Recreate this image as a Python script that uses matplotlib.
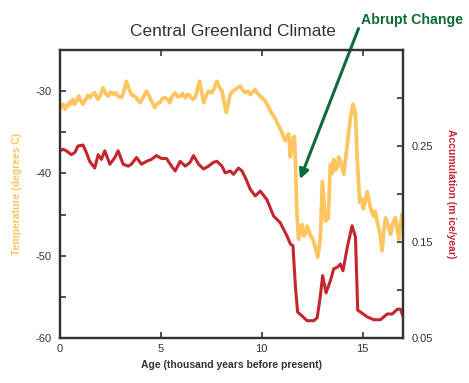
import matplotlib.pyplot as plt

plt.rcParams['font.family'] = ['Liberation Sans', 'DejaVu Sans']
plt.rcParams['axes.unicode_minus'] = False

# temperature record (thousand years BP, degrees C)
temp_age = [0.00, 0.06, 0.15, 0.25, 0.33, 0.40, 0.48, 0.55, 0.64, 0.73,
            0.83, 0.93, 1.03, 1.14, 1.22, 1.29, 1.38, 1.47, 1.60, 1.72,
            1.80, 1.89, 2.01, 2.14, 2.26, 2.38, 2.51, 2.63, 2.75, 2.88,
            3.04, 3.16, 3.29, 3.46, 3.57, 3.71, 3.83, 3.96, 4.12, 4.28,
            4.42, 4.53, 4.70, 4.82, 4.95, 5.08, 5.20, 5.33, 5.45, 5.56,
            5.71, 5.83, 5.96, 6.08, 6.21, 6.33, 6.45, 6.58, 6.70, 6.92,
            7.12, 7.24, 7.36, 7.53, 7.65, 7.78, 7.90, 8.03, 8.24, 8.44,
            8.56, 8.69, 8.82, 8.94, 9.07, 9.19, 9.31, 9.43, 9.56, 9.68,
            9.80, 9.93, 10.18, 10.43, 10.68, 10.92, 11.17, 11.34, 11.42,
            11.51, 11.62, 11.68, 11.74, 11.83, 11.92, 12.00, 12.08, 12.16, 12.25,
            12.33, 12.42, 12.50, 12.66, 12.78, 12.91, 13.01, 13.16, 13.29, 13.41,
            13.49, 13.57, 13.66, 13.74, 13.82, 13.90, 14.07, 14.24, 14.40, 14.53,
            14.65, 14.73, 14.86, 14.95, 15.04, 15.14, 15.23, 15.39, 15.54, 15.63,
            15.72, 15.89, 15.97, 16.05, 16.14, 16.26, 16.39, 16.51, 16.63, 16.72,
            16.80, 16.88, 16.97, 17.00]
temp = [-32.0, -31.9, -31.6, -32.2, -31.7, -31.8, -31.3, -31.5, -31.0, -31.6,
        -31.1, -30.6, -31.2, -31.6, -31.2, -31.0, -30.5, -30.8, -30.4, -30.2,
        -30.7, -31.0, -30.4, -29.6, -30.3, -30.6, -30.1, -30.4, -30.2, -30.6,
        -30.8, -30.1, -28.8, -30.0, -30.5, -30.6, -31.0, -31.4, -30.8, -30.0,
        -30.6, -31.2, -32.0, -31.5, -31.4, -30.9, -30.8, -31.0, -31.4, -30.6,
        -30.2, -30.7, -30.6, -30.3, -30.8, -30.4, -30.6, -31.0, -30.8, -28.8,
        -31.4, -30.6, -30.0, -30.2, -29.6, -28.8, -29.5, -30.0, -32.6, -30.4,
        -30.0, -29.8, -29.6, -29.4, -29.9, -30.2, -30.0, -30.4, -30.1, -29.8,
        -30.3, -30.6, -31.2, -32.4, -33.4, -34.6, -36.0, -35.2, -38.0,
        -36.1, -35.5, -38.9, -44.5, -48.0, -46.6, -46.2, -47.6, -47.4, -46.4,
        -46.8, -47.6, -47.8, -49.0, -50.2, -47.8, -41.0, -45.8, -45.5, -38.9,
        -40.0, -38.3, -39.6, -39.3, -38.0, -38.5, -40.1, -36.5, -33.2, -31.6,
        -32.8, -38.0, -43.5, -43.0, -44.3, -43.4, -42.2, -44.1, -45.2, -44.6,
        -45.8, -47.6, -49.4, -47.0, -45.4, -46.2, -47.4, -46.0, -45.4, -46.8,
        -48.0, -46.2, -44.9, -46.5]

# snow accumulation record (m ice / year)
acc_age = [0.00, 0.15, 0.31, 0.56, 0.73, 0.89, 1.14, 1.31, 1.47, 1.72,
           1.89, 2.05, 2.22, 2.47, 2.72, 2.88, 3.13, 3.38, 3.54, 3.79,
           4.04, 4.28, 4.53, 4.78, 5.03, 5.28, 5.53, 5.71, 5.96, 6.21,
           6.45, 6.62, 6.87, 7.12, 7.36, 7.61, 7.78, 8.03, 8.19, 8.44,
           8.60, 8.85, 9.02, 9.19, 9.43, 9.68, 9.93, 10.26, 10.59, 10.92,
           11.26, 11.42, 11.55, 11.67, 11.78, 12.00, 12.25, 12.58, 12.75, 12.91,
           13.02, 13.19, 13.41, 13.57, 13.77, 13.90, 14.03, 14.24, 14.48, 14.65,
           14.76, 14.90, 15.23, 15.56, 15.89, 16.22, 16.47, 16.73, 16.88, 17.00]
acc = [0.245, 0.2466, 0.245, 0.241, 0.243, 0.250, 0.251, 0.243, 0.234, 0.227,
       0.241, 0.236, 0.245, 0.231, 0.238, 0.245, 0.231, 0.229, 0.231, 0.238,
       0.231, 0.234, 0.236, 0.240, 0.237, 0.237, 0.229, 0.224, 0.234, 0.229,
       0.233, 0.240, 0.231, 0.226, 0.229, 0.233, 0.234, 0.229, 0.222, 0.224,
       0.2205, 0.227, 0.224, 0.217, 0.205, 0.198, 0.203, 0.194, 0.177, 0.170,
       0.156, 0.148, 0.146, 0.104, 0.077, 0.073, 0.068, 0.068, 0.071, 0.094,
       0.115, 0.097, 0.110, 0.122, 0.124, 0.127, 0.120, 0.144, 0.167, 0.155,
       0.079, 0.077, 0.072, 0.069, 0.069, 0.075, 0.075, 0.080, 0.080, 0.073]

orange = '#FDC560'
red = '#C4262E'
green = '#0E6B3C'
dark = '#333333'

fig = plt.figure(figsize=(4.69, 3.83), dpi=100)
ax = fig.add_axes([0.128, 0.1175, 0.731, 0.752])
ax2 = ax.twinx()

ax.plot(temp_age, temp, color=orange, lw=2.7, solid_joinstyle='round')
ax2.plot(acc_age, acc, color=red, lw=2.2, solid_joinstyle='round')

ax.set_xlim(0, 17)
ax.set_ylim(-60, -25)
ax2.set_ylim(0.05, 0.35)

ax.set_xticks([0, 5, 10, 15])
ax.set_yticks([-60, -50, -40, -30])
ax.set_yticks([-55, -45, -35], minor=True)
ax2.set_yticks([0.05, 0.15, 0.25])
ax2.set_yticklabels(['0.05', '0.15', '0.25'])
ax2.set_yticks([0.1, 0.2, 0.3], minor=True)

ax.tick_params(axis='both', which='both', direction='in', color=dark,
               labelcolor=dark, labelsize=8, width=1.2)
ax.tick_params(axis='x', top=True, length=4, pad=4)
ax.tick_params(axis='y', which='major', length=4, pad=6)
ax.tick_params(axis='y', which='minor', length=4)
ax2.tick_params(axis='y', which='both', direction='in', color=dark,
                labelcolor=dark, labelsize=8, width=1.2, length=4, pad=6)

for a in (ax, ax2):
    for s in a.spines.values():
        s.set_color(dark)
        s.set_linewidth(1.6)

ax.set_xlabel('Age (thousand years before present)', fontsize=7.5,
              fontweight='bold', color=dark, labelpad=5)
ax.set_ylabel('Temperature (degrees C)', fontsize=7.5, fontweight='bold',
              color=orange, labelpad=10)
ax2.set_ylabel('Accumulation (m ice/year)', fontsize=7.5, fontweight='bold',
               color=red, rotation=270, labelpad=17)

fig.text(0.497, 1 - 32 / 383, 'Central Greenland Climate', fontsize=12.5,
         color=dark, ha='center', va='center')

ax.annotate('', xy=(11.9, -40.7), xytext=(14.8, -22.4),
            arrowprops=dict(arrowstyle='-|>', color=green, lw=2.2,
                            mutation_scale=14, shrinkA=0, shrinkB=0),
            annotation_clip=False)
ax.text(14.9, -21.3, 'Abrupt Change', fontsize=10.2, fontweight='bold',
        color=green, ha='left', va='center')

fig.savefig('out.png', dpi=100)
